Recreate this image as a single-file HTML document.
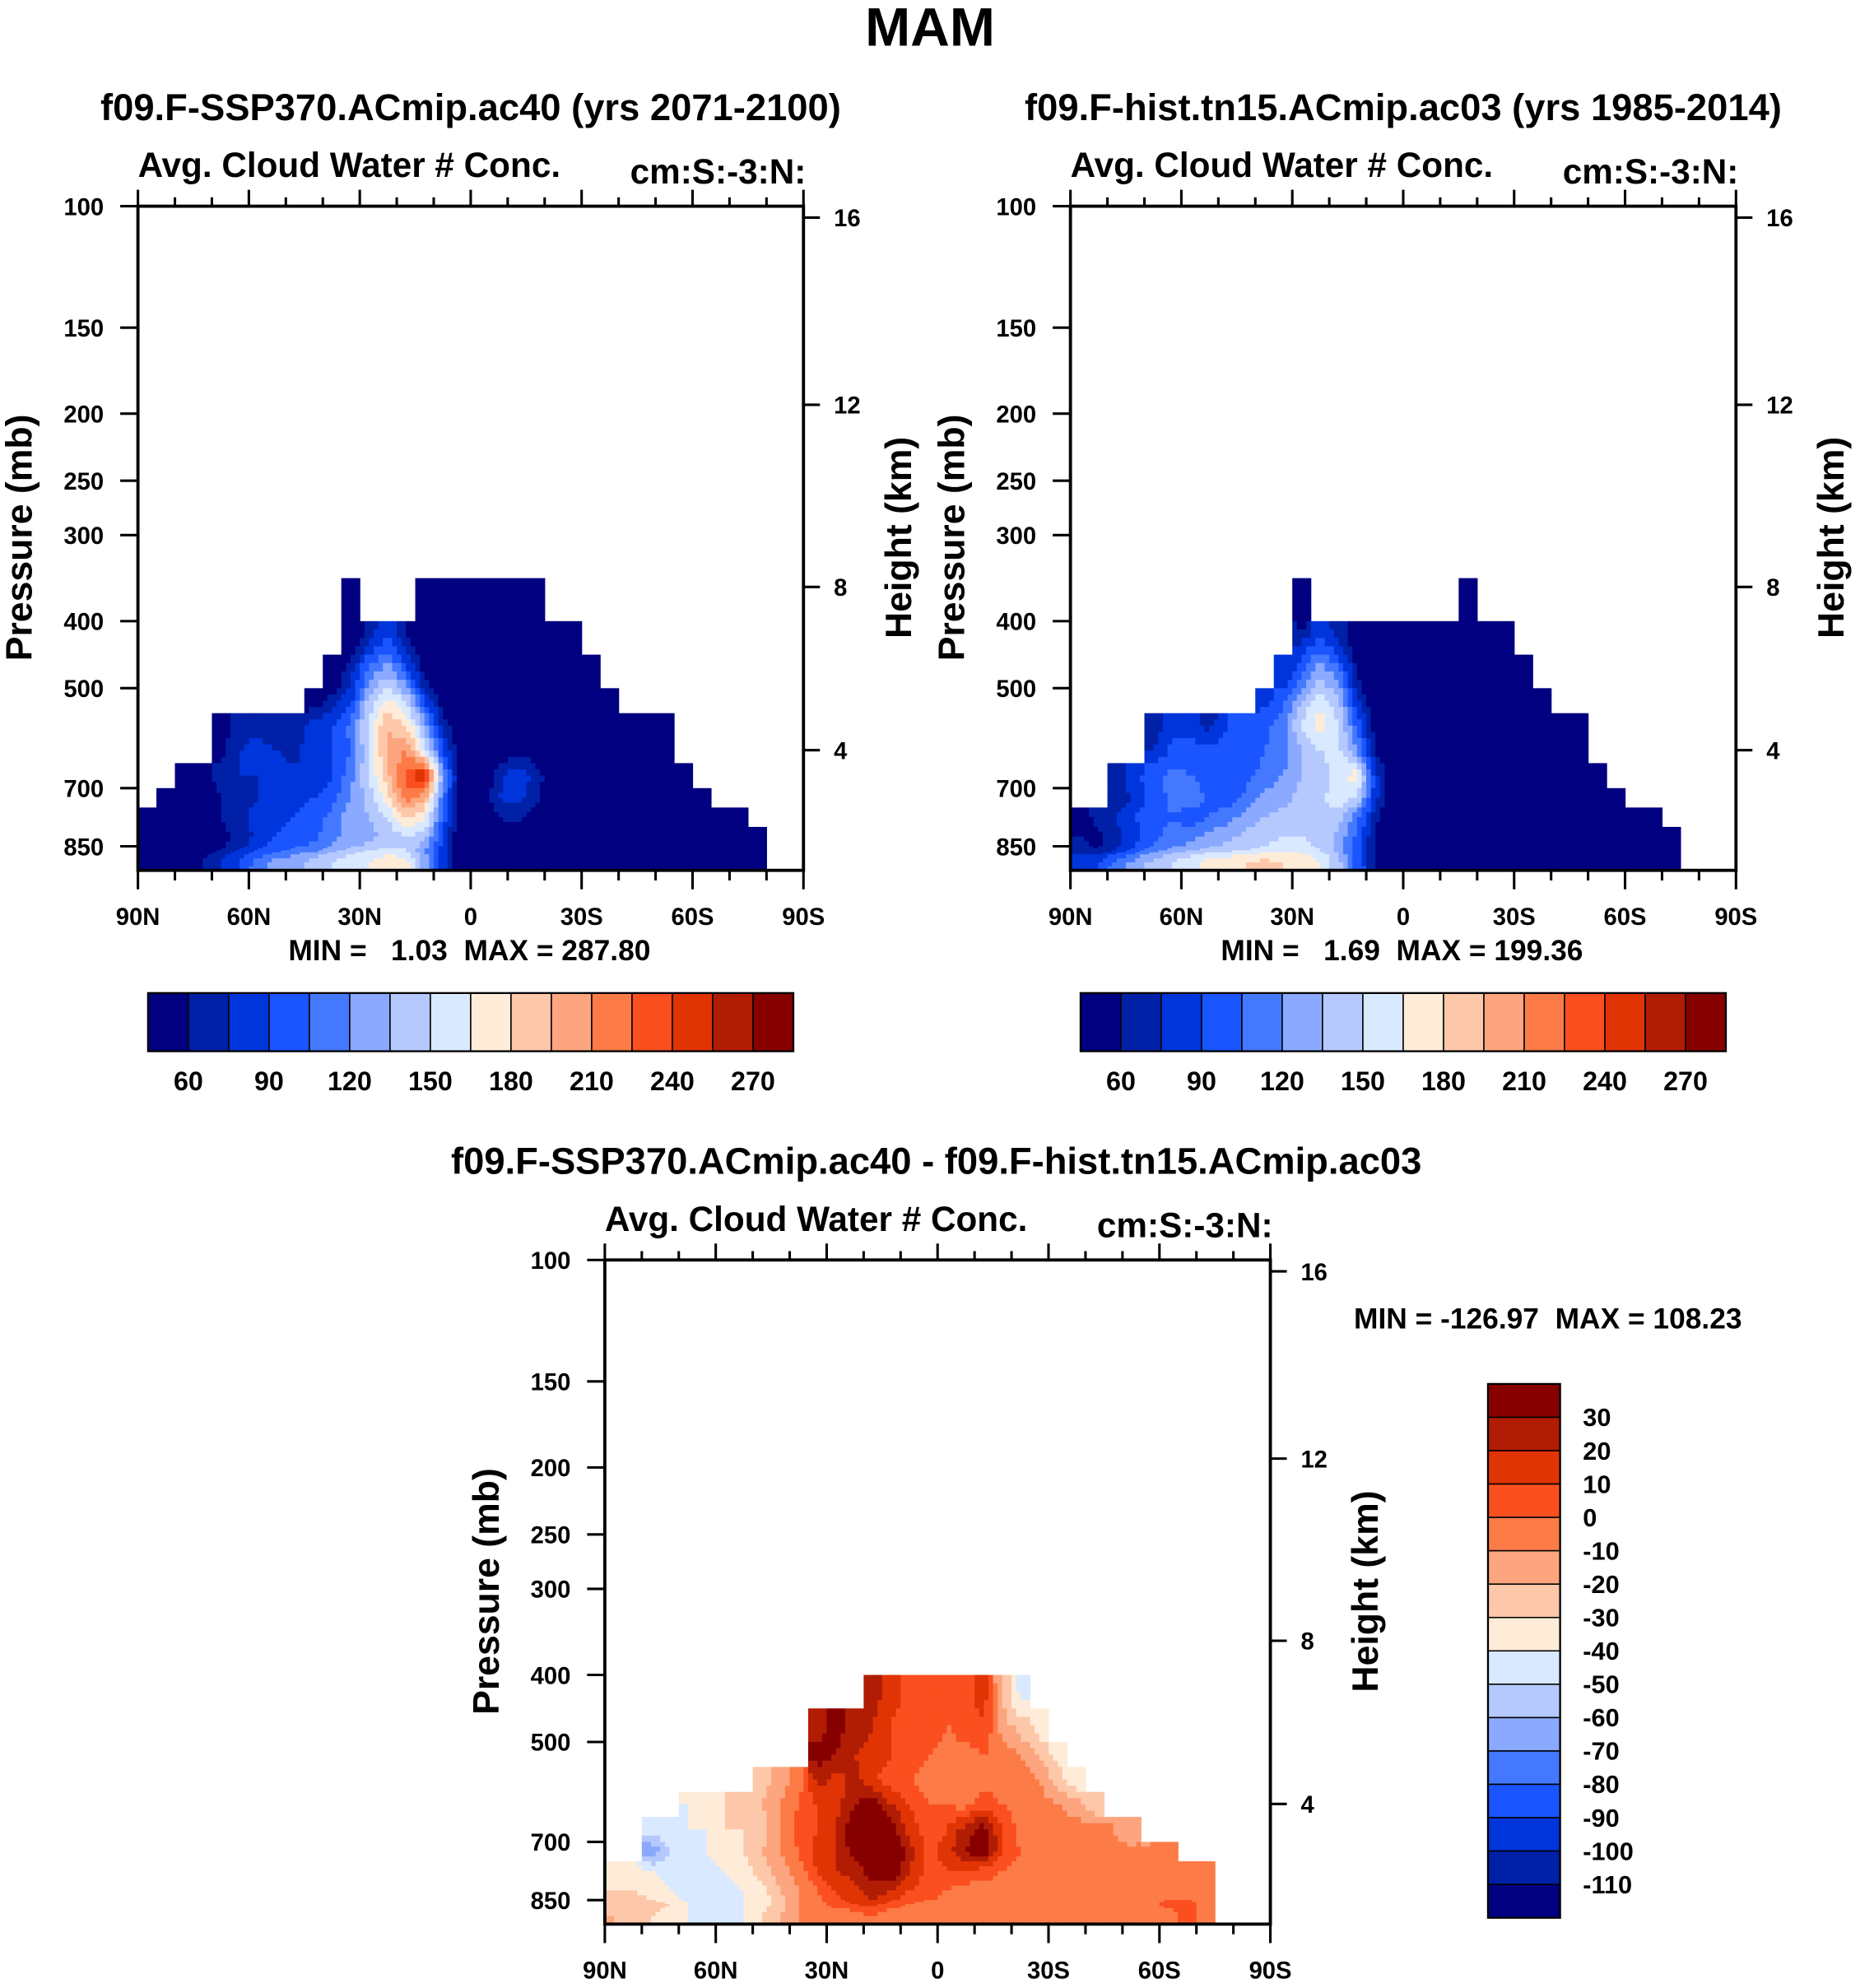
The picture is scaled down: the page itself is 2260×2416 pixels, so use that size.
<!DOCTYPE html>
<html><head><meta charset="utf-8"><style>
html,body{margin:0;padding:0;background:#fff}
svg{display:block}
text{font-family:"Liberation Sans",Arial,sans-serif;font-weight:bold;fill:#000;white-space:pre}
</style></head><body>
<svg id="fig" xmlns="http://www.w3.org/2000/svg" width="2260" height="2416" viewBox="0 0 1470 1571.5">
<text x="735" y="36" font-size="43" text-anchor="middle">MAM</text>
<text x="372" y="95" font-size="29.5" text-anchor="middle">f09.F-SSP370.ACmip.ac40 (yrs 2071-2100)</text>
<text x="1109" y="95" font-size="29.5" text-anchor="middle">f09.F-hist.tn15.ACmip.ac03 (yrs 1985-2014)</text>
<text x="740" y="928" font-size="29.5" text-anchor="middle">f09.F-SSP370.ACmip.ac40 - f09.F-hist.tn15.ACmip.ac03</text>
<g id="layer"></g>
</svg>
<script>
// ---- data ----
const levelBounds = [300,350,400,450,500,550,600,650,700,750,800,850,900,1000];
const latTicks = ["90N","60N","30N","0","30S","60S","90S"];
const pTicks = [100,150,200,250,300,400,500,700,850];
const pAxisP = [100,150,200,250,300,400,500,700,850,1000];
const pAxisOff = [0,96,164,217,260,328,381,460,506,525];
const hTicks = [16,12,8,4];
const hAxisOff = [9,157,301,430];
const absBounds = [60,75,90,105,120,135,150,165,180,195,210,225,240,255,270];
const absLabels = [60,90,120,150,180,210,240,270];
const diffBounds = [-110,-100,-90,-80,-70,-60,-50,-40,-30,-20,-10,0,10,20,30];
const palette = ["#000080","#0020a8","#0035dc","#1a55ff","#4479ff","#8aa9ff","#b5c9ff","#d9e9ff","#feecd9","#fdc8a9","#fca57e","#fc7b47","#fb4f20","#e03405","#b11c05","#870000"];
const p1Start = [0,11,11,10,9,4,4,2,1,0,0,0,0];
const p1Vals = [
 [],
 [30,null,null,null,30,30,30,30,30,30,30],
 [40,70,90,60,30,30,30,30,30,30,30,30,30],
 [40,70,110,130,100,55,30,30,30,30,30,30,30,30,30],
 [50,65,85,140,170,150,90,50,30,30,30,30,30,30,30,30,30],
 [50,70,70,65,70,80,90,110,155,195,180,130,70,40,30,30,30,30,30,30,30,30,30,30,30],
 [55,75,80,75,70,85,90,105,150,200,210,160,90,45,30,45,55,50,30,30,30,30,30,30,30],
 [40,55,65,75,75,80,80,75,90,115,150,190,230,260,120,50,35,70,85,70,45,30,30,30,30,30,30,30],
 [30,40,50,60,70,75,80,85,90,100,120,140,175,220,200,110,50,40,75,80,65,40,30,30,30,30,30,30,30,30],
 [30,30,35,45,60,70,80,85,90,95,110,130,135,150,180,170,100,45,35,60,65,50,30,30,30,30,30,30,30,30,30,30,30],
 [30,30,30,40,55,65,80,90,95,100,115,125,130,140,150,140,90,40,30,45,50,45,30,30,30,30,30,30,30,30,30,30,30,30],
 [30,30,35,45,60,75,90,100,110,115,130,140,150,155,150,120,80,40,30,30,30,30,30,30,30,30,30,30,30,30,30,30,30,30],
 [35,40,50,60,75,90,110,125,130,140,150,160,165,175,170,130,80,45,30,30,30,30,30,30,30,30,30,30,30,30,30,30,30,30]
];
const p2Start = [0,12,12,11,10,4,4,2,2,0,0,0,0];
const p2Vals = [
 [],
 [30,null,null,null,null,null,null,null,null,30],
 [70,90,70,40,30,30,30,30,30,30,30,30],
 [75,100,130,110,60,30,30,30,30,30,30,30,30,30],
 [85,100,135,160,140,80,40,30,30,30,30,30,30,30,30,30],
 [65,85,80,70,90,95,100,115,150,175,150,100,50,30,30,30,30,30,30,30,30,30,30,30],
 [75,95,100,95,100,95,105,110,135,150,155,120,60,40,30,50,55,45,30,30,30,30,30,30],
 [70,85,100,110,105,100,95,100,110,120,135,140,160,175,80,40,30,55,60,50,30,30,30,30,30,30,30],
 [60,80,95,110,115,100,95,110,125,130,140,145,160,150,80,40,35,60,60,45,30,30,30,30,30,30,30,30],
 [50,65,75,90,100,105,95,105,115,125,135,140,145,150,140,110,65,35,35,55,50,40,30,30,30,30,30,30,30,30,30,30],
 [60,55,70,85,100,110,115,125,130,140,145,150,150,145,130,100,60,35,30,30,30,30,30,30,30,30,30,30,30,30,30,30,30],
 [70,60,75,95,115,125,135,140,145,150,155,160,160,150,130,95,55,30,30,30,30,30,30,30,30,30,30,30,30,30,30,30,30],
 [80,90,110,125,140,150,160,170,175,180,185,180,175,165,140,100,60,30,30,30,30,30,30,30,30,30,30,30,30,30,30,30,30]
];
const p3Start = [0,0,14,11,11,8,4,2,2,0,0,0,0];
const p3Vals = [
 [],
 [],
 [25,15,5,5,5,5,15,-20,-45],
 [25,35,25,20,10,5,5,0,5,10,-15,-25,-35],
 [35,30,20,15,10,5,0,-5,-5,0,-5,-10,-20,-35],
 [-25,-15,-5,25,15,25,10,5,0,-5,-5,-5,-5,-5,-5,-10,-25,-40],
 [-40,-35,-30,-30,-20,-10,0,10,15,30,35,20,10,0,0,-5,5,0,-5,-5,-10,-15,-30],
 [-45,-45,-40,-40,-30,-30,-25,-10,5,10,20,40,45,35,15,5,10,25,35,10,-5,-5,-5,-5,-5,-10,-20],
 [-70,-50,-45,-40,-35,-30,-20,-10,0,15,20,35,40,45,25,5,15,30,40,10,0,-5,-5,-5,-5,-5,-5,-10,-10],
 [-35,-35,-40,-45,-40,-45,-40,-35,-25,-15,-5,10,20,25,35,40,20,5,10,10,5,0,-5,-5,-5,-5,-5,-5,-5,-5,-5,-5,-5],
 [-30,-30,-35,-40,-45,-50,-45,-40,-35,-20,-10,0,10,15,25,20,10,5,0,-5,-5,-5,-5,-5,-5,-5,-5,-5,-5,-5,-5,-5,-5],
 [-25,-20,-25,-30,-40,-45,-45,-40,-35,-25,-10,-5,5,10,15,5,0,-5,-5,-5,-5,-5,-5,-5,-5,-5,-5,-5,-5,-5,5,5,-5],
 [-20,-25,-30,-35,-40,-45,-45,-40,-30,-20,-10,-5,-5,-5,0,-5,-5,-5,-5,-5,-5,-5,-5,-5,-5,-5,-5,-5,-5,-5,-5,5,-5]
];
// ---- rendering ----
const NS = "http://www.w3.org/2000/svg";
const layer = document.getElementById('layer');
function mk(tag, attrs, parent, txt){const e=document.createElementNS(NS,tag);for(const k in attrs)e.setAttribute(k,attrs[k]);if(txt!==undefined)e.textContent=txt;(parent||layer).appendChild(e);return e;}
const W = 526, H = 525;
function interp(v, xs, ys){for(let i=0;i<xs.length-1;i++){if(v<=xs[i+1])return ys[i]+(v-xs[i])/(xs[i+1]-xs[i])*(ys[i+1]-ys[i]);}return ys[ys.length-1];}
function yOfP(p, top){return top + interp(p, pAxisP, pAxisOff);}
function xOfLat(lat, left){return left + (90-lat)/180*W;}
function colorFor(v, bounds){let k=0;for(const b of bounds) if(v>=b) k++;return palette[k];}
function grid(starts, vals){const g=[];for(let r=0;r<starts.length;r++){const row=Array(36).fill(null);vals[r].forEach((v,i)=>{row[starts[r]+i]=v;});g.push(row);}return g;}

function drawPanel(id, left, top, starts, vals, bounds){
  const g = mk('g', {}, layer);
  
  
  const G = grid(starts, vals);
  const S = 4;
  for(let r=0;r<G.length;r++){
    const y0 = yOfP(levelBounds[r], top), y1 = yOfP(levelBounds[r+1], top);
    for(let c=0;c<36;c++){
      const v = G[r][c]; if(v===null) continue;
      const x0 = xOfLat(90-c*5, left), x1 = xOfLat(85-c*5, left);
      for(let sy=0;sy<S;sy++){
        const fy=(sy+0.5)/S-0.5, rr=r+(fy<0?-1:1), wy=Math.abs(fy);
        for(let sx=0;sx<S;sx++){
          const fx=(sx+0.5)/S-0.5, cc=c+(fx<0?-1:1), wx=Math.abs(fx);
          const get=(a,b)=>{const q=(G[a]&&G[a][b]!==undefined)?G[a][b]:null;return q===null?v:q;};
          const vx=get(r,cc), vy=get(rr,c), vxy=get(rr,cc);
          const val=(1-wx)*(1-wy)*v + wx*(1-wy)*vx + (1-wx)*wy*vy + wx*wy*vxy;
          const col=colorFor(val,bounds);
          mk('rect',{x:(x0+(x1-x0)*sx/S).toFixed(2),y:(y0+(y1-y0)*sy/S).toFixed(2),width:((x1-x0)/S+0.4).toFixed(2),height:((y1-y0)/S+0.4).toFixed(2),fill:col},g);
        }
      }
    }
  }
}

function drawAxes(id, left, top){
  const g = mk('g', {}, layer);
  
  
  mk('rect',{x:left,y:top,width:W,height:H,fill:'none',stroke:'#000','stroke-width':2.5},g);
  for(let lat=90;lat>=-90;lat-=10){
    const x=xOfLat(lat,left), major=(lat%30===0);
    mk('line',{x1:x,y1:top+H,x2:x,y2:top+H+(major?15:8),stroke:'#000','stroke-width':2},g);
    mk('line',{x1:x,y1:top,x2:x,y2:top-(major?13:7),stroke:'#000','stroke-width':2},g);
  }
  latTicks.forEach((t,i)=>{
    const lbl=mk('text',{x:xOfLat(90-i*30,left),y:top+H+43,'font-size':19,'text-anchor':'middle'},g,t);
    
    
  });
  pTicks.forEach(p=>{
    const y=yOfP(p,top);
    mk('line',{x1:left-14,y1:y,x2:left,y2:y,stroke:'#000','stroke-width':2},g);
    const lbl=mk('text',{x:left-27,y:y+7,'font-size':19,'text-anchor':'end'},g,String(p));
    
    
  });
  hTicks.forEach((h,i)=>{
    const y=top+hAxisOff[i];
    mk('line',{x1:left+W,y1:y,x2:left+W+13,y2:y,stroke:'#000','stroke-width':2},g);
    const lbl=mk('text',{x:left+W+24,y:y+7,'font-size':19},g,String(h));
    
    
  });
  const yt=mk('text',{x:0,y:0,'font-size':29,'text-anchor':'middle',transform:`translate(${left-84},${top+262}) rotate(-90)`},g,'Pressure (mb)');
  
  
  const ht=mk('text',{x:0,y:0,'font-size':29,'text-anchor':'middle',transform:`translate(${left+W+85},${top+262}) rotate(-90)`},g,'Height (km)');
  
  
  const st=mk('text',{x:left,y:top-23,'font-size':27.5},g,'Avg. Cloud Water # Conc.');
  
  
  const ut=mk('text',{x:left+W+2,y:top-18,'font-size':27.5,'text-anchor':'end'},g,'cm:S:-3:N:');
  
  
}

function hColorbar(id, left, top){
  const g = mk('g', {}, layer);
  
  
  const w=510/16;
  palette.forEach((c,i)=>mk('rect',{x:left+i*w,y:top,width:w,height:46,fill:c,stroke:'#000','stroke-width':1},g));
  mk('rect',{x:left,y:top,width:510,height:46,fill:'none',stroke:'#000','stroke-width':1.5},g);
  absLabels.forEach(v=>{
    const k=absBounds.indexOf(v)+1;
    const lbl=mk('text',{x:left+k*w,y:top+77,'font-size':21,'text-anchor':'middle'},g,String(v));
    
    
  });
}

drawPanel('panel1',109,163,p1Start,p1Vals,absBounds);
drawAxes('panel1',109,163);
drawPanel('panel2',846,163,p2Start,p2Vals,absBounds);
drawAxes('panel2',846,163);
drawPanel('panel3',478,996,p3Start,p3Vals,diffBounds);
drawAxes('panel3',478,996);
hColorbar('panel1',117,785);
hColorbar('panel2',854,785);

const m1=mk('text',{x:371,y:759,'font-size':23,'text-anchor':'middle'},layer,'MIN =   1.03  MAX = 287.80');


const m2=mk('text',{x:1108,y:759,'font-size':23,'text-anchor':'middle'},layer,'MIN =   1.69  MAX = 199.36');


const m3=mk('text',{x:1070,y:1050,'font-size':23},layer,'MIN = -126.97  MAX = 108.23');



// vertical colorbar for difference
const vg = mk('g', {}, layer);


const vh = 422/16;
for(let i=0;i<16;i++){
  mk('rect',{x:1176,y:1094+i*vh,width:57,height:vh,fill:palette[15-i],stroke:'#000','stroke-width':1},vg);
}
mk('rect',{x:1176,y:1094,width:57,height:422,fill:'none',stroke:'#000','stroke-width':1.5},vg);
diffBounds.slice().reverse().forEach((v,i)=>{
  const lbl=mk('text',{x:1251,y:1094+(i+1)*vh+7,'font-size':20},vg,String(v));
  
  
});
</script>
</body></html>
